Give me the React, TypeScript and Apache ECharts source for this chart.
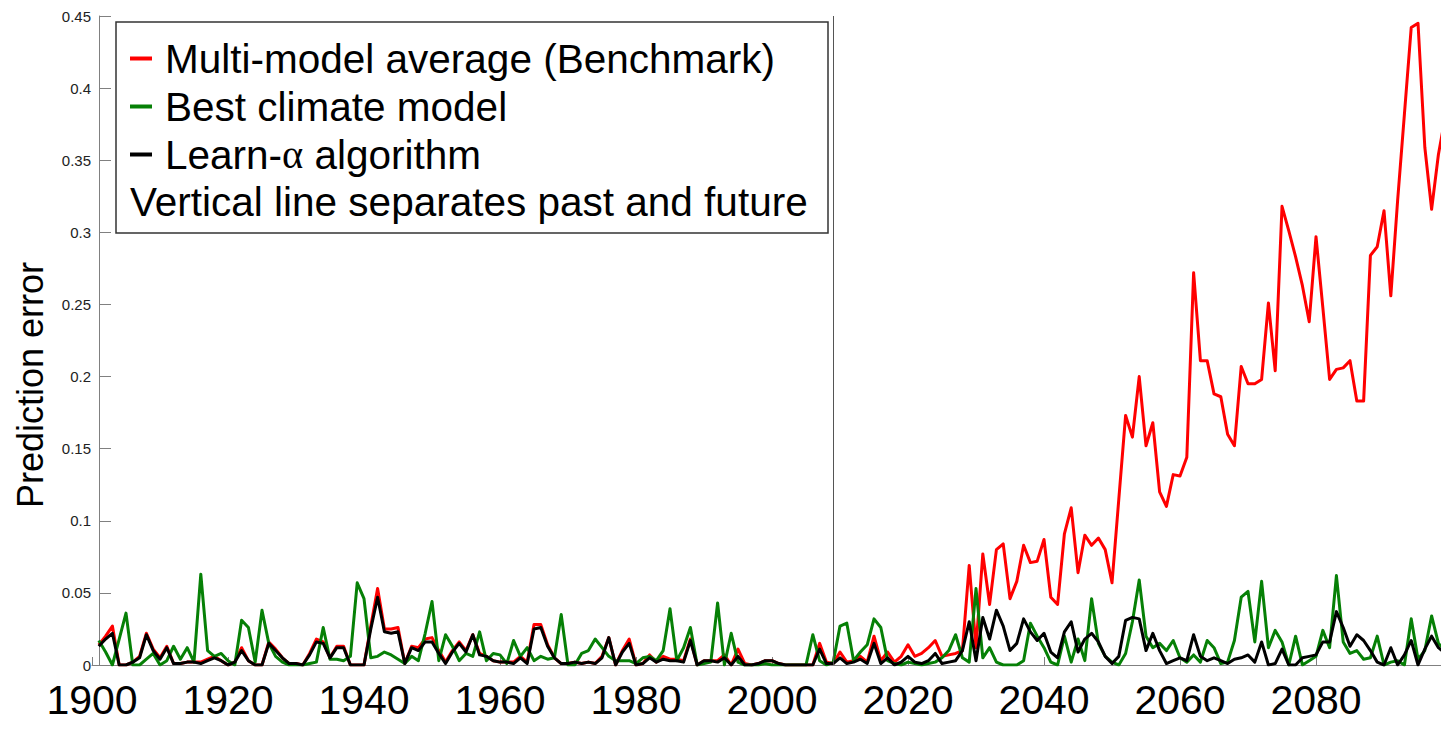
import React, { useEffect, useRef } from "react";
import * as echarts from "echarts";

// ---------- data (one value per year, starting at FIRST_YEAR) ----------
const FIRST_YEAR = 1901;

// Multi-model average (Benchmark) – red
const multiModel: number[] = [
  0.014, 0.02, 0.027, 0.0, 0.0, 0.002, 0.006, 0.022, 0.011, 0.005, // 1901-1910
  0.013, 0.001, 0.001, 0.002, 0.002, 0.002, 0.004, 0.006, 0.003, 0.0, // 1911-1920
  0.002, 0.012, 0.003, 0.0, 0.0, 0.016, 0.011, 0.005, 0.001, 0.001, // 1921-1930
  0.0, 0.008, 0.018, 0.016, 0.005, 0.013, 0.013, 0.0, 0.0, 0.0, // 1931-1940
  0.027, 0.053, 0.025, 0.025, 0.026, 0.001, 0.013, 0.012, 0.018, 0.019, // 1941-1950
  0.01, 0.002, 0.01, 0.016, 0.01, 0.021, 0.008, 0.006, 0.003, 0.002, // 1951-1960
  0.002, 0.002, 0.006, 0.002, 0.028, 0.028, 0.014, 0.005, 0.001, 0.001, // 1961-1970
  0.002, 0.001, 0.002, 0.001, 0.006, 0.019, 0.0, 0.01, 0.018, 0.0, // 1971-1980
  0.001, 0.007, 0.002, 0.006, 0.004, 0.004, 0.003, 0.018, 0.0, 0.003, // 1981-1990
  0.003, 0.003, 0.007, 0.0, 0.011, 0.001, 0.0, 0.001, 0.003, 0.003, // 1991-2000
  0.001, 0.0, 0.0, 0.0, 0.0, 0.0, 0.015, 0.002, 0.001, 0.009, // 2001-2010
  0.002, 0.003, 0.006, 0.002, 0.02, 0.003, 0.009, 0.002, 0.006, 0.014, // 2011-2020
  0.006, 0.008, 0.012, 0.017, 0.006, 0.007, 0.008, 0.01, 0.069, 0.012, // 2021-2030
  0.077, 0.042, 0.08, 0.084, 0.046, 0.058, 0.083, 0.071, 0.072, 0.087, // 2031-2040
  0.047, 0.042, 0.091, 0.109, 0.064, 0.09, 0.083, 0.088, 0.08, 0.057, // 2041-2050
  0.115, 0.173, 0.158, 0.2, 0.152, 0.168, 0.12, 0.11, 0.132, 0.131, // 2051-2060
  0.144, 0.272, 0.211, 0.211, 0.188, 0.186, 0.16, 0.152, 0.207, 0.195, // 2061-2070
  0.195, 0.198, 0.251, 0.204, 0.318, 0.301, 0.283, 0.263, 0.238, 0.297, // 2071-2080
  0.248, 0.198, 0.205, 0.206, 0.211, 0.183, 0.183, 0.284, 0.29, 0.315, // 2081-2090
  0.256, 0.322, 0.382, 0.442, 0.445, 0.359, 0.316, 0.354, 0.38, // 2091-2099
];

// Best climate model – green
const bestModel: number[] = [
  0.017, 0.009, 0.0, 0.018, 0.036, 0.0, 0.0, 0.004, 0.008, 0.0, // 1901-1910
  0.003, 0.013, 0.004, 0.012, 0.002, 0.063, 0.01, 0.006, 0.008, 0.003, // 1911-1920
  0.0, 0.031, 0.026, 0.002, 0.038, 0.015, 0.006, 0.002, 0.0, 0.0, // 1921-1930
  0.0, 0.001, 0.002, 0.026, 0.004, 0.004, 0.003, 0.006, 0.057, 0.046, // 1931-1940
  0.005, 0.006, 0.009, 0.007, 0.004, 0.001, 0.006, 0.003, 0.022, 0.044, // 1941-1950
  0.003, 0.021, 0.013, 0.003, 0.008, 0.006, 0.023, 0.003, 0.008, 0.007, // 1951-1960
  0.001, 0.017, 0.006, 0.012, 0.003, 0.006, 0.004, 0.005, 0.035, 0.0, // 1961-1970
  0.0, 0.008, 0.01, 0.018, 0.012, 0.006, 0.003, 0.003, 0.003, 0.001, // 1971-1980
  0.005, 0.006, 0.003, 0.01, 0.039, 0.003, 0.012, 0.026, 0.0, 0.001, // 1981-1990
  0.002, 0.043, 0.0, 0.022, 0.002, 0.0, 0.0, 0.0, 0.001, 0.0, // 1991-2000
  0.0, 0.0, 0.0, 0.0, 0.0, 0.021, 0.003, 0.0, 0.002, 0.027, // 2001-2010
  0.029, 0.003, 0.009, 0.014, 0.032, 0.026, 0.003, 0.001, 0.0, 0.002, // 2011-2020
  0.001, 0.0, 0.001, 0.002, 0.005, 0.01, 0.021, 0.005, 0.002, 0.053, // 2021-2030
  0.005, 0.012, 0.002, 0.0, 0.0, 0.0, 0.003, 0.029, 0.02, 0.012, // 2031-2040
  0.002, 0.0, 0.02, 0.002, 0.018, 0.003, 0.046, 0.015, 0.006, 0.002, // 2041-2050
  0.0, 0.008, 0.03, 0.059, 0.02, 0.012, 0.015, 0.01, 0.017, 0.005, // 2051-2060
  0.002, 0.007, 0.002, 0.017, 0.012, 0.001, 0.002, 0.017, 0.047, 0.051, // 2061-2070
  0.016, 0.058, 0.012, 0.024, 0.016, 0.0, 0.02, 0.0, 0.003, 0.006, // 2071-2080
  0.024, 0.012, 0.062, 0.016, 0.008, 0.01, 0.004, 0.005, 0.02, 0.0, // 2081-2090
  0.002, 0.003, 0.0, 0.032, 0.004, 0.01, 0.034, 0.015, 0.01, // 2091-2099
];

// Learn-alpha algorithm – black
const learnAlpha: number[] = [
  0.013, 0.018, 0.022, 0.0, 0.0, 0.002, 0.005, 0.021, 0.01, 0.004, // 1901-1910
  0.012, 0.001, 0.001, 0.002, 0.002, 0.001, 0.003, 0.005, 0.003, 0.0, // 1911-1920
  0.002, 0.01, 0.003, 0.0, 0.0, 0.015, 0.01, 0.005, 0.001, 0.001, // 1921-1930
  0.0, 0.007, 0.016, 0.015, 0.005, 0.012, 0.012, 0.0, 0.0, 0.0, // 1931-1940
  0.025, 0.047, 0.023, 0.022, 0.023, 0.001, 0.012, 0.01, 0.016, 0.016, // 1941-1950
  0.008, 0.001, 0.009, 0.015, 0.009, 0.021, 0.007, 0.006, 0.003, 0.002, // 1951-1960
  0.002, 0.001, 0.005, 0.001, 0.025, 0.026, 0.013, 0.005, 0.001, 0.001, // 1961-1970
  0.002, 0.001, 0.002, 0.001, 0.005, 0.019, 0.0, 0.009, 0.015, 0.0, // 1971-1980
  0.001, 0.005, 0.002, 0.004, 0.003, 0.003, 0.002, 0.017, 0.0, 0.003, // 1981-1990
  0.003, 0.002, 0.005, 0.0, 0.006, 0.0, 0.0, 0.001, 0.003, 0.003, // 1991-2000
  0.001, 0.0, 0.0, 0.0, 0.0, 0.0, 0.011, 0.001, 0.001, 0.005, // 2001-2010
  0.001, 0.002, 0.004, 0.001, 0.015, 0.001, 0.005, 0.0, 0.002, 0.006, // 2011-2020
  0.002, 0.001, 0.003, 0.008, 0.001, 0.002, 0.003, 0.01, 0.03, 0.003, // 2021-2030
  0.033, 0.018, 0.038, 0.027, 0.01, 0.015, 0.032, 0.023, 0.017, 0.022, // 2031-2040
  0.009, 0.005, 0.023, 0.03, 0.009, 0.018, 0.022, 0.016, 0.006, 0.001, // 2041-2050
  0.006, 0.031, 0.033, 0.032, 0.01, 0.022, 0.01, 0.001, 0.003, 0.005, // 2051-2060
  0.003, 0.021, 0.006, 0.003, 0.005, 0.003, 0.001, 0.004, 0.005, 0.007, // 2061-2070
  0.002, 0.016, 0.0, 0.001, 0.011, 0.0, 0.0, 0.005, 0.006, 0.007, // 2071-2080
  0.016, 0.016, 0.037, 0.026, 0.013, 0.021, 0.017, 0.01, 0.002, 0.0, // 2081-2090
  0.012, 0.0, 0.007, 0.017, 0.0, 0.011, 0.02, 0.012, 0.008, // 2091-2099
];

const years: number[] = multiModel.map((_, i) => FIRST_YEAR + i);

const SEPARATOR_YEAR = 2009;
const X_MIN = 1900;
const X_MAX = 2098.38;
const X_STEP = 20;
const Y_MIN = 0;
const Y_MAX = 0.45;
const Y_STEP = 0.05;

const NAME_RED = "Multi-model average (Benchmark)";
const NAME_GREEN = "Best climate model";
const NAME_BLACK = "Learn-\u03b1 algorithm";
const NOTE = "Vertical line separates past and future";
const Y_TITLE = "Prediction error";

const RED = "#ff0000";
const GREEN = "#068006";
const BLACK = "#000000";
const AXIS_GRAY = "#808080";
const FONT = '"Liberation Sans", Arial, Helvetica, sans-serif';
const LEGEND_FONT = 40.5;

const toPairs = (vals: number[]) => vals.map((v, i) => [years[i], v]);

export default function App() {
  const ref = useRef<HTMLDivElement>(null);

  useEffect(() => {
    document.body.style.margin = "0";
    if (!ref.current) return;
    const chart = echarts.init(ref.current, null, { renderer: "svg" });

    const lineSeries = (name: string, color: string, vals: number[], extra: any = {}) => ({
      name,
      type: "line",
      data: toPairs(vals),
      showSymbol: false,
      symbol: "none",
      color,
      itemStyle: { color },
      lineStyle: { color, width: 3, join: "round" },
      emphasis: { disabled: true },
      clip: true,
      ...extra,
    });

    chart.setOption({
      animation: false,
      backgroundColor: "#ffffff",
      textStyle: { fontFamily: FONT },
      grid: {
        left: 92,
        right: 0,
        top: 16,
        bottom: 64,
        containLabel: false,
        outerBoundsMode: "none",
      },
      xAxis: {
        type: "value",
        min: X_MIN,
        max: X_MAX,
        interval: X_STEP,
        axisLine: { show: true, lineStyle: { color: AXIS_GRAY, width: 1 } },
        axisTick: { show: true, inside: true, length: 8, lineStyle: { color: AXIS_GRAY } },
        axisLabel: {
          show: true,
          fontSize: 41,
          color: "#000",
          fontFamily: FONT,
          margin: 14,
          showMaxLabel: false,
          formatter: (v: number) => (Math.abs(v % X_STEP) < 1e-6 ? String(v) : ""),
        },
        splitLine: { show: false },
      },
      yAxis: {
        type: "value",
        min: Y_MIN,
        max: Y_MAX,
        interval: Y_STEP,
        offset: -7,
        axisLine: { show: true, lineStyle: { color: AXIS_GRAY, width: 1 } },
        axisTick: { show: true, inside: true, length: 12, lineStyle: { color: AXIS_GRAY } },
        axisLabel: {
          show: true,
          fontSize: 15,
          color: "#222",
          fontFamily: FONT,
          margin: 8,
          formatter: (v: number) => String(Number(v.toFixed(2))),
        },
        splitLine: { show: false },
      },
      legend: {
        orient: "vertical",
        left: 130,
        top: 38,
        padding: 0,
        itemGap: 7,
        itemWidth: 22,
        itemHeight: 4,
        icon: "rect",
        z: 20,
        selectedMode: false,
        data: [NAME_RED, NAME_GREEN, NAME_BLACK],
        formatter: (name: string) =>
          name === NAME_BLACK ? "{t|Learn-}{g|\u03b1}{t| algorithm}" : name,
        textStyle: {
          fontSize: LEGEND_FONT,
          color: "#000",
          fontFamily: FONT,
          padding: [0, 0, 0, 8],
          rich: {
            t: { fontSize: LEGEND_FONT, color: "#000", fontFamily: FONT },
            g: { fontSize: LEGEND_FONT, color: "#000", fontFamily: '"Liberation Serif", "DejaVu Serif", serif' },
          },
        },
      },
      graphic: [
        {
          type: "rect",
          z: 10,
          shape: { x: 116, y: 22, width: 712, height: 211 },
          style: { fill: "#ffffff", stroke: "#333333", lineWidth: 1.5 },
        },
        {
          type: "text",
          z: 11,
          x: 130,
          y: 202,
          style: {
            text: NOTE,
            fontSize: LEGEND_FONT,
            fontFamily: FONT,
            fill: "#000",
            align: "left",
            verticalAlign: "middle",
          },
        },
        {
          type: "text",
          z: 11,
          x: 30,
          y: 385,
          rotation: Math.PI / 2,
          style: {
            text: Y_TITLE,
            fontSize: 36,
            fontFamily: FONT,
            fill: "#000",
            align: "center",
            verticalAlign: "middle",
          },
        },
      ],
      series: [
        lineSeries(NAME_RED, RED, multiModel),
        lineSeries(NAME_GREEN, GREEN, bestModel),
        lineSeries(NAME_BLACK, BLACK, learnAlpha, {
          markLine: {
            silent: true,
            symbol: ["none", "none"],
            label: { show: false },
            lineStyle: { color: "#555555", width: 1, type: "solid" },
            emphasis: { disabled: true },
            data: [{ xAxis: SEPARATOR_YEAR }],
          },
        }),
      ],
    });

    return () => chart.dispose();
  }, []);

  return (
    <div
      ref={ref}
      style={{ position: "absolute", left: 0, top: 0, width: 1441, height: 729, background: "#fff" }}
    />
  );
}
